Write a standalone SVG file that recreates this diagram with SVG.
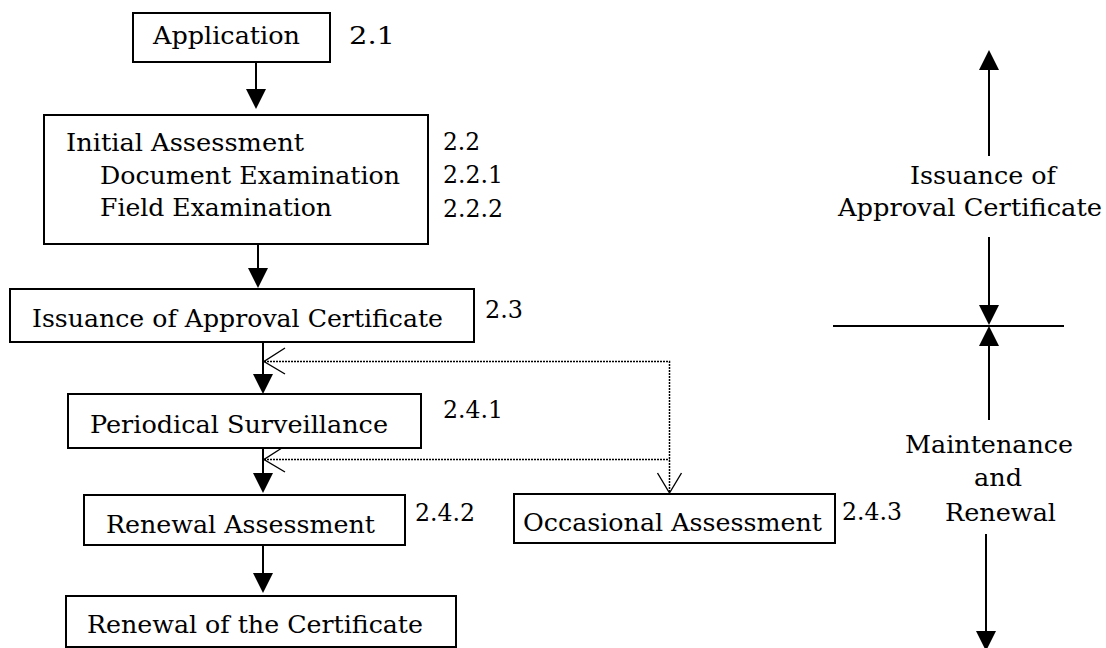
<svg xmlns="http://www.w3.org/2000/svg" width="1106" height="648" viewBox="0 0 1106 648">
<style>
  .box{fill:#fff;stroke:#000;stroke-width:2}
  .t{font-family:"DejaVu Serif","Liberation Serif",serif;font-size:24px;fill:#000}
  .ln{stroke:#000;stroke-width:2;fill:none}
  .dot{stroke:#000;stroke-width:1.5;stroke-dasharray:2 1;fill:none}
  .open{stroke:#000;stroke-width:1.4;fill:none}
</style>
<defs>
  <marker id="ah" markerUnits="userSpaceOnUse" markerWidth="20" markerHeight="20" refX="10" refY="10" orient="auto">
    <path d="M0,0 L20,10 L0,20 z" fill="#000"/>
  </marker>
</defs>
<rect width="1106" height="648" fill="#fff"/>

<g id="connectors">
  <line class="ln" x1="256" y1="62" x2="256" y2="99" marker-end="url(#ah)"/>
  <line class="ln" x1="258" y1="244" x2="258" y2="278" marker-end="url(#ah)"/>
  <line class="ln" x1="263" y1="342" x2="263" y2="384" marker-end="url(#ah)"/>
  <line class="ln" x1="263" y1="448" x2="263" y2="483" marker-end="url(#ah)"/>
  <line class="ln" x1="263" y1="545" x2="263" y2="583" marker-end="url(#ah)"/>
  <polyline class="dot" points="264,361.5 669.5,361.5 669.5,493"/>
  <line class="dot" x1="264" y1="459.5" x2="669.5" y2="459.5"/>
  <polyline class="open" points="285,348 264,361.5 285,374"/>
  <polyline class="open" points="285,446 264,459.5 285,472"/>
  <polyline class="open" points="657.5,473 669.5,493 681.5,473"/>
  <line class="ln" x1="989" y1="156" x2="989" y2="60" marker-end="url(#ah)"/>
  <line class="ln" x1="989" y1="237" x2="989" y2="315" marker-end="url(#ah)"/>
  <line class="ln" x1="833" y1="326" x2="1064" y2="326"/>
  <line class="ln" x1="989" y1="420" x2="989" y2="336" marker-end="url(#ah)"/>
  <line class="ln" x1="986" y1="534" x2="986" y2="641" marker-end="url(#ah)"/>
</g>

<g id="application">
  <rect class="box" x="133" y="13" width="197" height="49"/>
  <text class="t" x="153" y="44" textLength="147" lengthAdjust="spacingAndGlyphs">Application</text>
  <text class="t" x="349" y="44" textLength="46" lengthAdjust="spacingAndGlyphs">2.1</text>
</g>

<g id="initial-assessment">
  <rect class="box" x="44" y="115" width="384" height="129"/>
  <text class="t" x="66" y="151" textLength="238" lengthAdjust="spacingAndGlyphs">Initial Assessment</text>
  <text class="t" x="100" y="184" textLength="300" lengthAdjust="spacingAndGlyphs">Document Examination</text>
  <text class="t" x="100" y="216" textLength="232" lengthAdjust="spacingAndGlyphs">Field Examination</text>
  <text class="t" x="443" y="150" textLength="37" lengthAdjust="spacingAndGlyphs">2.2</text>
  <text class="t" x="443" y="183" textLength="60" lengthAdjust="spacingAndGlyphs">2.2.1</text>
  <text class="t" x="443" y="217" textLength="60" lengthAdjust="spacingAndGlyphs">2.2.2</text>
</g>

<g id="issuance">
  <rect class="box" x="10" y="289" width="464" height="53"/>
  <text class="t" x="32" y="327" textLength="411" lengthAdjust="spacingAndGlyphs">Issuance of Approval Certificate</text>
  <text class="t" x="485" y="318" textLength="38" lengthAdjust="spacingAndGlyphs">2.3</text>
</g>

<g id="periodical-surveillance">
  <rect class="box" x="68" y="394" width="353" height="54"/>
  <text class="t" x="90" y="433" textLength="298" lengthAdjust="spacingAndGlyphs">Periodical Surveillance</text>
  <text class="t" x="443" y="418" textLength="60" lengthAdjust="spacingAndGlyphs">2.4.1</text>
</g>

<g id="renewal-assessment">
  <rect class="box" x="84" y="495" width="321" height="50"/>
  <text class="t" x="106" y="533" textLength="269" lengthAdjust="spacingAndGlyphs">Renewal Assessment</text>
  <text class="t" x="415" y="521" textLength="60" lengthAdjust="spacingAndGlyphs">2.4.2</text>
</g>

<g id="occasional-assessment">
  <rect class="box" x="514" y="494" width="321" height="49"/>
  <text class="t" x="523" y="531" textLength="299" lengthAdjust="spacingAndGlyphs">Occasional Assessment</text>
  <text class="t" x="842" y="520" textLength="60" lengthAdjust="spacingAndGlyphs">2.4.3</text>
</g>

<g id="renewal-certificate">
  <rect class="box" x="66" y="596" width="390" height="51"/>
  <text class="t" x="87" y="633" textLength="336" lengthAdjust="spacingAndGlyphs">Renewal of the Certificate</text>
</g>

<g id="phase-issuance">
  <text class="t" x="910" y="184" textLength="146" lengthAdjust="spacingAndGlyphs">Issuance of</text>
  <text class="t" x="838" y="216" textLength="264" lengthAdjust="spacingAndGlyphs">Approval Certificate</text>
</g>

<g id="phase-maintenance">
  <text class="t" x="905" y="453" textLength="168" lengthAdjust="spacingAndGlyphs">Maintenance</text>
  <text class="t" x="974" y="486" textLength="48" lengthAdjust="spacingAndGlyphs">and</text>
  <text class="t" x="945" y="521" textLength="111" lengthAdjust="spacingAndGlyphs">Renewal</text>
</g>
</svg>
